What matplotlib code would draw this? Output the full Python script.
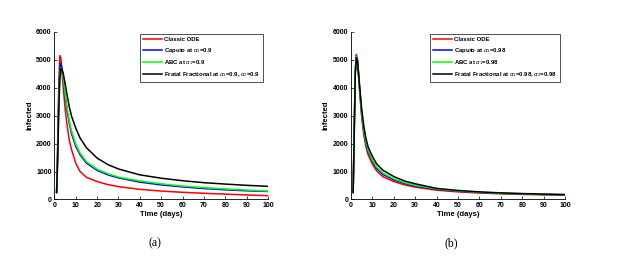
import matplotlib
matplotlib.use("Agg")
import matplotlib.pyplot as plt

plt.rcParams['font.family'] = ['Liberation Sans', 'DejaVu Sans']
plt.rcParams['mathtext.fontset'] = 'custom'
plt.rcParams['mathtext.rm'] = 'Liberation Sans'
plt.rcParams['mathtext.it'] = 'Liberation Sans:italic'

# time points (days)
t = [1, 1.5, 2, 2.5, 3, 3.5, 4, 5, 6, 7, 8, 10, 12, 15, 20, 25, 30, 40, 50, 60, 70, 80, 90, 100]

# panel (a): alpha = 0.9
red_a = [250, 2000, 4100, 5150, 5050, 4600, 4100, 3250, 2600, 2100, 1780, 1290, 1000, 790, 640, 530, 460, 360, 300, 255, 220, 190, 160, 135]
blue_a = [250, 1700, 3600, 4700, 4880, 4700, 4350, 3700, 3150, 2700, 2350, 1900, 1600, 1300, 1040, 880, 770, 620, 520, 450, 390, 345, 310, 285]
green_a = [250, 1550, 3350, 4450, 4710, 4620, 4400, 3800, 3250, 2800, 2450, 1980, 1660, 1350, 1080, 920, 800, 660, 560, 480, 420, 375, 335, 300]
black_a = [250, 1400, 3150, 4300, 4680, 4660, 4550, 4150, 3700, 3300, 2980, 2550, 2200, 1850, 1480, 1250, 1090, 880, 760, 670, 600, 550, 505, 470]

# panel (b): alpha = 0.98
red_b = [250, 2500, 4650, 5200, 4950, 4450, 3900, 2950, 2300, 1880, 1600, 1260, 1020, 810, 640, 520, 440, 330, 270, 230, 200, 180, 165, 150]
blue_b = [250, 2450, 4580, 5150, 4970, 4500, 3980, 3050, 2420, 1980, 1700, 1360, 1110, 890, 700, 570, 480, 360, 295, 250, 218, 195, 178, 163]
green_b = [250, 2420, 4550, 5130, 4980, 4520, 4010, 3100, 2480, 2040, 1760, 1410, 1160, 940, 740, 600, 505, 375, 305, 258, 225, 200, 183, 168]
black_b = [250, 2300, 4450, 5080, 5000, 4580, 4100, 3230, 2620, 2180, 1880, 1540, 1270, 1040, 820, 660, 560, 395, 320, 270, 235, 210, 190, 175]

labels_a = ['Classic ODE', r'Caputo at $\alpha_1$=0.9', r'ABC at $\alpha_1$=0.9',
            r'Fratal Fractional at $\alpha_1$=0.9, $\alpha_2$=0.9']
labels_b = ['Classic ODE', r'Caputo at $\alpha_1$=0.98', r'ABC at $\alpha_1$=0.98',
            r'Fratal Fractional at $\alpha_1$=0.98, $\alpha_2$=0.98']
colors = ['#ff0000', '#0000ff', '#00ff00', '#000000']

fig = plt.figure(figsize=(6.24, 2.6), dpi=100)
ax1 = fig.add_axes([0.0873, 0.233, 0.342, 0.644])
ax2 = fig.add_axes([0.5625, 0.233, 0.343, 0.644])

for ax, series, labels, cap in [(ax1, [red_a, blue_a, green_a, black_a], labels_a, '(a)'),
                                (ax2, [red_b, blue_b, green_b, black_b], labels_b, '(b)')]:
    for y, c, lab in zip(series, colors, labels):
        ax.plot(t, y, color=c, lw=1.1, label=lab)
    ax.set_xlim(0, 100)
    ax.set_ylim(0, 6000)
    ax.set_xticks(range(0, 101, 10))
    ax.set_yticks(range(0, 6001, 1000))
    ax.spines['top'].set_visible(False)
    ax.spines['right'].set_visible(False)
    ax.spines['left'].set_linewidth(0.6)
    ax.spines['bottom'].set_linewidth(0.6)
    ax.tick_params(direction='in', length=2, width=0.5, labelsize=5, pad=2)
    for lbl in ax.get_xticklabels() + ax.get_yticklabels():
        lbl.set_fontweight('bold')
    ax.set_xlabel('Time (days)', fontsize=5.5, fontweight='bold', labelpad=1.5)
    ax.set_ylabel('Infected', fontsize=5.5, fontweight='bold', labelpad=2)
    leg = ax.legend(loc='upper right', bbox_to_anchor=(0.975, 0.985), fontsize=4.3,
                    frameon=True, fancybox=False, edgecolor='black',
                    handlelength=3.2, handletextpad=0.35, labelspacing=0.55,
                    borderpad=0.45, borderaxespad=0.0)
    leg.get_frame().set_linewidth(0.6)
    for txt in leg.get_texts():
        txt.set_fontweight('bold')
    ax.text(0.47, -0.26, cap, transform=ax.transAxes, ha='center', va='center',
            fontsize=8.5, family='Liberation Serif')

fig.savefig('out.png', dpi=100)
